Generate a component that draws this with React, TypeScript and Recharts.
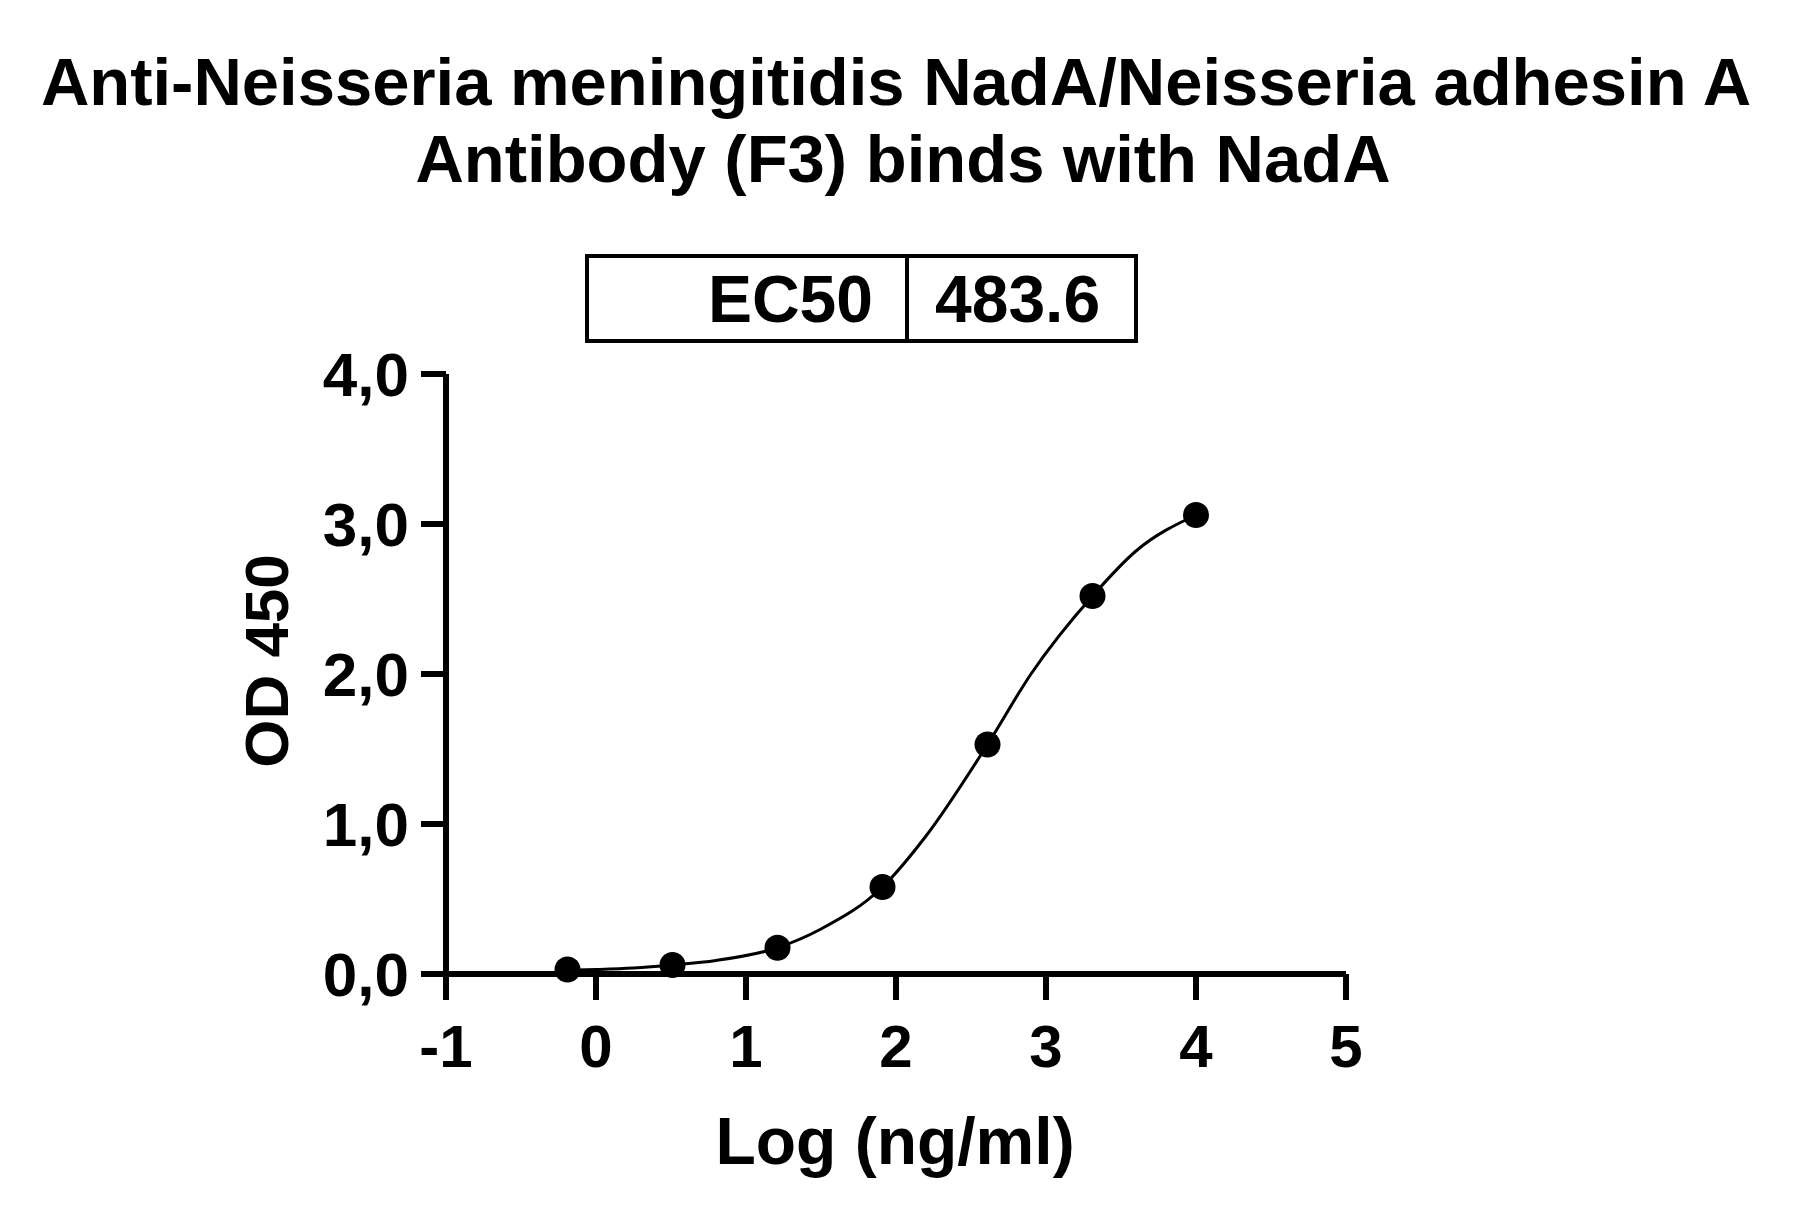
import { ComposedChart, Line, Scatter, XAxis, YAxis } from "recharts"

const logConc = [-0.19, 0.51, 1.21, 1.91, 2.61, 3.31, 4.0]
const od450 = [0.03, 0.06, 0.175, 0.58, 1.53, 2.52, 3.06]

// fitted curve
const fitX = [-0.19, 0, 0.25, 0.51, 0.8, 1.21, 1.5, 1.91, 2.2, 2.61, 2.9, 3.31, 3.6, 4.0]
const fitY = [0.025, 0.03, 0.04, 0.06, 0.09, 0.175, 0.3, 0.58, 0.92, 1.53, 2.0, 2.52, 2.82, 3.06]

const xTicks = [-1, 0, 1, 2, 3, 4, 5]
const yTicks = [0, 1, 2, 3, 4]

const points = logConc.map((x, i) => ({ x, y: od450[i] }))
const curve = fitX.map((x, i) => ({ x, y: fitY[i] }))

const font = "'Liberation Sans', Arial, sans-serif"

export default function App() {
  return (
    <div style={{ position: "absolute", left: 0, top: 0, width: 1793, height: 1220, background: "#fff" }}>
      <ComposedChart
        width={1793}
        height={1220}
        data={curve}
        margin={{ top: 374, right: 447, bottom: 0, left: 0 }}
      >
        <XAxis
          dataKey="x"
          type="number"
          domain={[-1, 5]}
          ticks={xTicks}
          height={246}
          stroke="#000"
          strokeWidth={6}
          tickSize={26}
          tickMargin={24}
          tick={{ fill: "#000", fontSize: 60, fontWeight: 700, fontFamily: font }}
          allowDataOverflow
        />
        <YAxis
          dataKey="y"
          type="number"
          domain={[0, 4]}
          ticks={yTicks}
          width={446}
          stroke="#000"
          strokeWidth={6}
          tickSize={25}
          tickMargin={12}
          tickFormatter={(v: number) => v.toFixed(1).replace(".", ",")}
          tick={{ fill: "#000", fontSize: 62, fontWeight: 700, fontFamily: font }}
        />
        <Line
          dataKey="y"
          type="monotone"
          stroke="#000"
          strokeWidth={3}
          dot={false}
          isAnimationActive={false}
        />
        <Scatter data={points} dataKey="y" fill="#000" shape={(p: any) => <circle cx={p.cx} cy={p.cy} r={13} fill="#000" />} isAnimationActive={false} />
      </ComposedChart>
      <svg width={1793} height={1220} style={{ position: "absolute", left: 0, top: 0, pointerEvents: "none" }}>
        <g fontFamily={font} fontWeight={700} fill="#000">
          <text x={896} y={105} fontSize={67} textAnchor="middle">
            Anti-Neisseria meningitidis NadA/Neisseria adhesin A
          </text>
          <text x={903} y={182} fontSize={67} textAnchor="middle">
            Antibody (F3) binds with NadA
          </text>
          <rect x={587} y={256} width={549} height={85} fill="none" stroke="#000" strokeWidth={4} />
          <line x1={907} y1={256} x2={907} y2={341} stroke="#000" strokeWidth={4} />
          <text x={873} y={322} fontSize={66} textAnchor="end">EC50</text>
          <text x={935} y={322} fontSize={66}>483.6</text>
          <text x={895} y={1164} fontSize={66} textAnchor="middle">Log (ng/ml)</text>
          <text x={288} y={661} fontSize={62} textAnchor="middle" transform="rotate(-90 288 661)">OD 450</text>
        </g>
      </svg>
    </div>
  )
}
